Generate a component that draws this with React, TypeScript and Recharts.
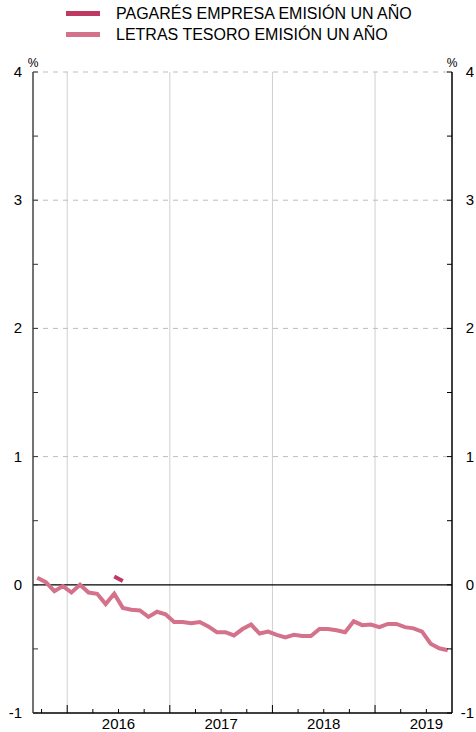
import { Line, LineChart, ReferenceLine, XAxis, YAxis } from "recharts";

const meses = [
  "2015-09", "2015-10", "2015-11", "2015-12",
  "2016-01", "2016-02", "2016-03", "2016-04", "2016-05", "2016-06",
  "2016-07", "2016-08", "2016-09", "2016-10", "2016-11", "2016-12",
  "2017-01", "2017-02", "2017-03", "2017-04", "2017-05", "2017-06",
  "2017-07", "2017-08", "2017-09", "2017-10", "2017-11", "2017-12",
  "2018-01", "2018-02", "2018-03", "2018-04", "2018-05", "2018-06",
  "2018-07", "2018-08", "2018-09", "2018-10", "2018-11", "2018-12",
  "2019-01", "2019-02", "2019-03", "2019-04", "2019-05", "2019-06",
  "2019-07", "2019-08", "2019-09",
];

const letrasTesoro = [
  0.055, 0.02, -0.05, -0.01, -0.06, 0.0, -0.06, -0.07, -0.15, -0.07,
  -0.18, -0.195, -0.2, -0.25, -0.21, -0.23, -0.29, -0.29, -0.3, -0.29,
  -0.325, -0.37, -0.37, -0.395, -0.345, -0.31, -0.38, -0.365, -0.39, -0.41,
  -0.39, -0.4, -0.4, -0.345, -0.345, -0.355, -0.37, -0.285, -0.315, -0.31,
  -0.33, -0.305, -0.305, -0.33, -0.34, -0.365, -0.46, -0.495, -0.51,
];

const pagaresEmpresa: (number | null)[] = [
  null, null, null, null, null, null, null, null, null, 0.065,
  0.03, null, null, null, null, null, null, null, null, null,
  null, null, null, null, null, null, null, null, null, null,
  null, null, null, null, null, null, null, null, null, null,
  null, null, null, null, null, null, null, null, null,
];

// posiciones en índice de mes (medio mes = frontera)
const ticksTrimestre = [0.5, 3.5, 6.5, 9.5, 12.5, 15.5, 18.5, 21.5, 24.5, 27.5, 30.5, 33.5, 36.5, 39.5, 42.5, 45.5];
const iniciosAnio = [3.5, 15.5, 27.5, 39.5];
const etiquetasAnio: Record<number, string> = { 9.5: "2016", 21.5: "2017", 33.5: "2018", 45.5: "2019" };
const ticksY = [-1, -0.5, 0, 0.5, 1, 1.5, 2, 2.5, 3, 3.5, 4];
const lineasY = [1, 2, 3, 4];

const series = [
  { key: "pagares", nombre: "PAGARÉS EMPRESA EMISIÓN UN AÑO", color: "#bf3a62" },
  { key: "letras", nombre: "LETRAS TESORO EMISIÓN UN AÑO", color: "#d4728c" },
];

const datos = meses.map((mes, i) => ({
  idx: i,
  mes,
  letras: letrasTesoro[i],
  pagares: pagaresEmpresa[i],
}));

const FUENTE = "'Liberation Sans', Arial, Helvetica, sans-serif";

function TickX({ x, y, payload }: any) {
  const v = payload.value as number;
  const largo = iniciosAnio.includes(v) ? 8 : 4;
  const etiqueta = etiquetasAnio[v];
  return (
    <g>
      <line x1={x} x2={x} y1={y} y2={y - largo} stroke="#000" strokeWidth={1} />
      {etiqueta && (
        <text x={x} y={y + 16} textAnchor="middle" fontSize={15} fontFamily={FUENTE} fill="#000">
          {etiqueta}
        </text>
      )}
    </g>
  );
}

function TickYIzq({ x, y, payload }: any) {
  const v = payload.value as number;
  return (
    <g>
      <line x1={x} x2={x + 5} y1={y} y2={y} stroke="#333" strokeWidth={1} />
      {Number.isInteger(v) && (
        <text x={x - 11} y={y + 5} textAnchor="end" fontSize={15} fontFamily={FUENTE} fill="#000">
          {v}
        </text>
      )}
      {v === 4 && (
        <text x={x} y={y - 5} textAnchor="middle" fontSize={12} fontFamily={FUENTE} fill="#000">
          %
        </text>
      )}
    </g>
  );
}

function TickYDer({ x, y, payload }: any) {
  const v = payload.value as number;
  return (
    <g>
      <line x1={x} x2={x - 5} y1={y} y2={y} stroke="#000" strokeWidth={1} />
      {Number.isInteger(v) && (
        <text x={x + 22} y={y + 5} textAnchor="end" fontSize={15} fontFamily={FUENTE} fill="#000">
          {v}
        </text>
      )}
      {v === 4 && (
        <text x={x} y={y - 5} textAnchor="middle" fontSize={12} fontFamily={FUENTE} fill="#000">
          %
        </text>
      )}
    </g>
  );
}

function Leyenda() {
  return (
    <div style={{ position: "absolute", top: 3, left: 0, fontFamily: FUENTE, fontSize: 16, color: "#000" }}>
      {series.map((s) => (
        <div key={s.key} style={{ display: "flex", alignItems: "center", height: 21 }}>
          <span style={{ display: "inline-block", width: 34, height: 5, background: s.color, marginLeft: 66, marginRight: 16 }} />
          <span>{s.nombre}</span>
        </div>
      ))}
    </div>
  );
}

export default function App() {
  return (
    <div style={{ position: "absolute", left: 0, top: 0, width: 476, height: 732, background: "#fff" }}>
      <LineChart width={476} height={732} data={datos} margin={{ top: 72, right: 0, bottom: 0, left: 0 }}>
        <XAxis
          dataKey="idx"
          type="number"
          domain={[-0.5, 48.5]}
          ticks={ticksTrimestre}
          interval={0}
          height={19}
          tickSize={0}
          tickMargin={0}
          tickLine={false}
          axisLine={{ stroke: "#000", strokeWidth: 1.5 }}
          tick={<TickX />}
          allowDataOverflow
        />
        <YAxis
          yAxisId="izq"
          orientation="left"
          type="number"
          domain={[-1, 4]}
          ticks={ticksY}
          interval={0}
          width={33}
          tickSize={0}
          tickMargin={0}
          tickLine={false}
          axisLine={{ stroke: "#444", strokeWidth: 1.5 }}
          tick={<TickYIzq />}
          allowDataOverflow
        />
        <YAxis
          yAxisId="der"
          orientation="right"
          type="number"
          domain={[-1, 4]}
          ticks={ticksY}
          interval={0}
          width={24}
          tickSize={0}
          tickMargin={0}
          tickLine={false}
          axisLine={{ stroke: "#000", strokeWidth: 1.5 }}
          tick={<TickYDer />}
          allowDataOverflow
        />
        {iniciosAnio.map((v) => (
          <ReferenceLine key={"a" + v} x={v} yAxisId="izq" stroke="#cfcfcf" strokeWidth={1} />
        ))}
        {lineasY.map((v) => (
          <ReferenceLine key={"y" + v} y={v} yAxisId="izq" stroke="#bdbdbd" strokeWidth={1} strokeDasharray="5 5" />
        ))}
        <ReferenceLine y={0} yAxisId="izq" stroke="#000" strokeWidth={1.2} />
        <Line
          yAxisId="izq"
          dataKey="letras"
          stroke={series[1].color}
          strokeWidth={4}
          dot={false}
          isAnimationActive={false}
        />
        <Line
          yAxisId="izq"
          dataKey="pagares"
          stroke={series[0].color}
          strokeWidth={4}
          dot={false}
          connectNulls={false}
          isAnimationActive={false}
        />
      </LineChart>
      <Leyenda />
    </div>
  );
}
